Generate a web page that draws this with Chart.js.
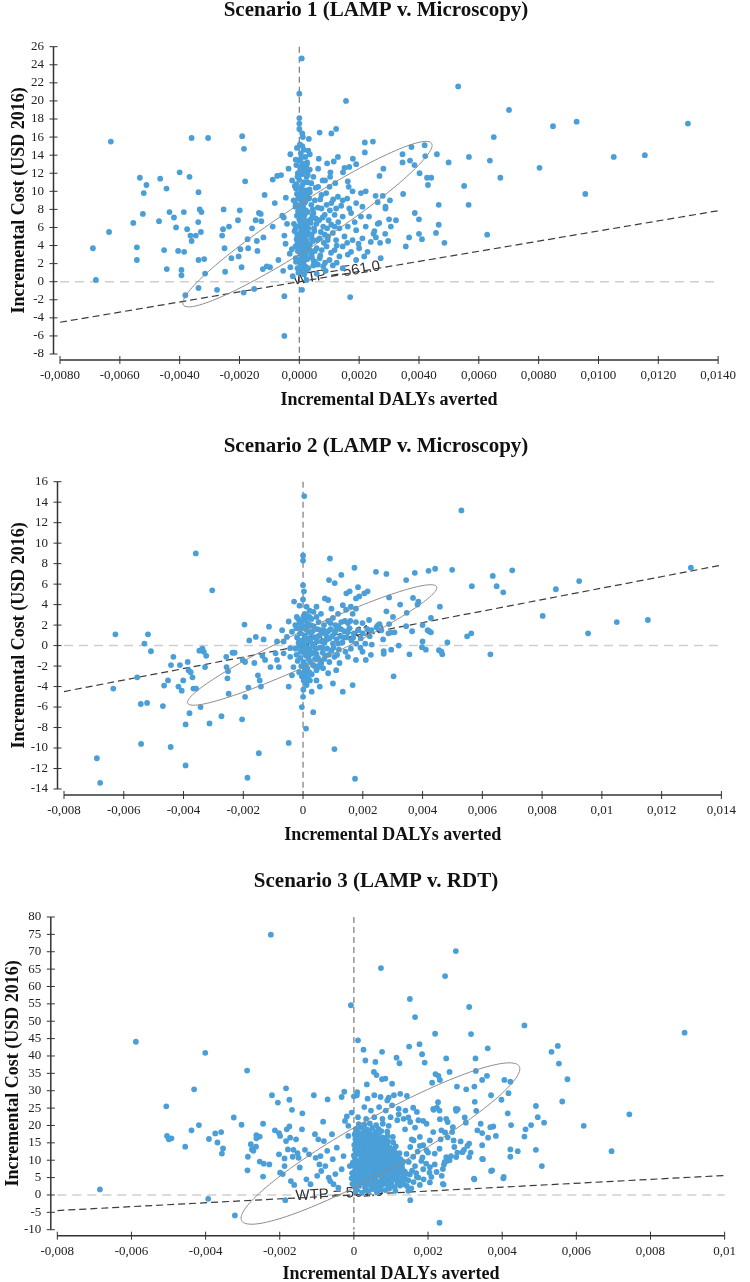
<!DOCTYPE html>
<html>
<head>
<meta charset="utf-8">
<script src="https://cdn.jsdelivr.net/npm/chart.js@4.4.0/dist/chart.umd.min.js"></script>
<style>
  html, body { margin: 0; padding: 0; background: #fff; }
  #page { position: relative; width: 750px; height: 1282px; background: #fff; }
  canvas { position: absolute; left: 0; }
</style>
</head>
<body>
<div id="page">
  <canvas id="c1" width="750" height="430" style="top:0px"></canvas>
  <canvas id="c2" width="750" height="430" style="top:430px"></canvas>
  <canvas id="c3" width="750" height="422" style="top:860px"></canvas>
</div>
<script>
document.addEventListener('DOMContentLoaded', function() {

  const WTP = 561.0;
  const xAxisTitle = 'Incremental DALYs averted';
  const yAxisTitle = 'Incremental Cost (USD 2016)';

  // ---- Scenario 1 ----
  const s1Title = 'Scenario 1 (LAMP v. Microscopy)';
  const s1XTicks = [-0.008, -0.006, -0.004, -0.002, 0, 0.002, 0.004, 0.006, 0.008, 0.010, 0.012, 0.014];
  const s1XLabels = ['-0,0080', '-0,0060', '-0,0040', '-0,0020', '0,0000', '0,0020', '0,0040', '0,0060', '0,0080', '0,0100', '0,0120', '0,0140'];
  const s1YTicks = [-8, -6, -4, -2, 0, 2, 4, 6, 8, 10, 12, 14, 16, 18, 20, 22, 24, 26];
  const s1Ellipse = { cx: 0.000272, cy: 6.37, ax: 0.004149, ay: 8.94, bx: 0.00038, by: -1.98 };
  // [incremental DALYs averted, incremental cost]
  const s1Points = [
    [-0.0069,3.7],[-0.0068,0.2],[-0.0063,15.5],[-0.00636,5.5],[-0.00555,6.5],[-0.00543,3.8],[-0.00543,2.4],[-0.00533,11.5],
    [-0.00523,7.5],[-0.0052,9.8],[-0.00511,10.7],[-0.00469,6.7],[-0.00465,11.4],[-0.00452,3.5],[-0.00444,10.3],[-0.00443,1.4],
    [-0.00434,7.7],[-0.00419,7.1],[-0.00412,6.0],[-0.00405,3.4],[-0.004,12.1],[-0.00394,1.3],[-0.00394,0.7],[-0.00386,7.7],
    [-0.00385,3.3],[-0.00381,-1.5],[-0.00375,5.8],[-0.00367,11.6],[-0.00364,5.1],[-0.0036,15.9],[-0.0036,4.5],[-0.00346,5.1],
    [-0.00337,9.9],[-0.00338,6.6],[-0.00337,2.4],[-0.00337,-0.7],[-0.00333,8.0],[-0.00327,7.7],[-0.00329,5.5],[-0.00318,2.5],
    [-0.00315,0.9],[-0.00305,15.9],[-0.00275,-0.9],[-0.00258,5.1],[-0.00253,8.0],[-0.00255,5.8],[-0.0025,3.7],[-0.00248,1.1],
    [-0.00235,6.1],[-0.00227,2.6],[-0.00205,6.8],[-0.00203,2.8],[-0.00199,7.9],[-0.00197,3.6],[-0.00193,1.6],[-0.00191,16.1],
    [-0.00186,-1.2],[-0.00185,14.7],[-0.00181,11.1],[-0.00173,4.7],[-0.00171,3.7],[-0.00158,5.9],[-0.00151,-0.8],[-0.00146,6.8],
    [-0.00142,4.5],[-0.0014,3.4],[-0.00135,7.6],[-0.00129,7.5],[-0.00127,6.7],[-0.00122,1.4],[-0.0012,4.9],[-0.00116,9.6],
    [-0.00109,1.7],[-0.00098,1.6],[-0.00089,6.1],[-0.00089,11.3],[-0.00082,8.7],[-0.00074,11.7],[-0.0007,2.4],[-0.00061,11.8],
    [-0.00057,7.3],[-0.00052,7.1],[-0.0005,5.1],[-0.0005,-6.0],[-0.0005,-1.6],[-0.00046,4.2],[-0.00054,1.2],[-0.00045,9.3],
    [-0.00041,6.4],[-0.00032,3.1],[-0.0003,14.1],[-0.00024,11.2],[-0.00019,9.0],[-0.00016,5.6],
    [-0.00036,12.5],[-0.00018,6.4],[-0.00025,3.6],[-0.00013,8.3],[-0.0003,1.6],[-0.00022,0.6],[-0.00008,14.8],[-0.00015,10.6],
    [0.00008,24.7],[0,20.8],[0,18.1],[0,17.5],[0,16.9],[0.0001,16.4],[0.00012,16.0],[0.00009,-0.9],
    [0.00002,15.2],[0.0001,15.0],[0.00015,14.6],[0.00005,14.2],[0.0002,13.8],[0,13.4],[0.00012,13.1],[0.00022,12.8],
    [0.00003,12.5],[0.00014,12.2],[0.00008,11.9],[0.00024,11.6],[0,11.3],[0.00016,11.0],[0.0001,10.7],[0.00005,10.4],
    [0.0002,10.1],[0.00012,9.8],[0,9.5],[0.00025,9.3],[0.00007,9.0],[0.00017,8.7],[0.00002,8.4],[0.00013,8.2],
    [0.00022,7.9],[0.00006,7.6],[0.00018,7.4],[0.0001,7.1],[0,6.9],[0.00026,6.7],[0.00014,6.4],[0.00004,6.2],
    [0.0002,6.0],[0.00009,5.7],[0.00016,5.5],[0,5.3],[0.00024,5.1],[0.00011,4.9],[0.00005,4.6],[0.00019,4.4],
    [0.00013,4.2],[0,4.0],[0.00027,3.8],[0.00008,3.6],[0.00017,3.3],[0.00003,3.1],[0.00022,2.9],[0.00011,2.7],
    [0,2.4],[0.00015,2.2],[0.00006,2.0],[0.0002,1.7],[0.0001,1.4],[0.00003,1.1],[0.00016,0.8],
    [0.00035,12.4],[0.0004,10.9],[0.00033,9.2],[0.00045,8.0],[0.00038,6.9],[0.0003,5.9],
    [0.00042,4.8],[0.00036,3.5],[0.00048,2.3],[0.0003,1.5],[0.00044,7.3],[0.00034,10.2],[0.0005,5.6],[0.00028,11.8],
    [0.0003,14.5],[-0.00005,12.0],[-0.00008,9.7],[-0.00004,7.8],[-0.0001,6.1],[-0.00006,4.3],[-0.00012,2.6],[-0.00003,1.0],
    [-0.0001,10.8],[-0.00007,5.2],
    [-0.00012,13.5],[0.00006,13.7],[0.00026,13.2],[-0.0001,12.9],[0.00019,12.4],[-0.00006,11.6],[0.00027,11.0],[-0.00011,10.3],
    [0.00006,10.0],[0.00029,9.7],[-0.00004,9.2],[0.00021,8.9],[-0.00012,8.6],[0.00009,8.0],[0.00028,7.7],[-0.00008,7.3],
    [0.00015,7.0],[0.00003,6.6],[0.00023,6.3],[-0.00012,5.9],[0.00006,5.5],[0.00029,5.4],[-0.00003,5.0],[0.00015,4.8],
    [0.00025,4.5],[-0.00009,4.7],[0.00003,4.3],[0.00021,4.0],[-0.00013,3.9],[0.00012,3.8],[0.00029,3.4],[-0.00005,3.4],
    [0.00006,3.0],[0.00018,2.8],[-0.00011,2.2],[0.00027,2.5],[0.00003,2.0],[0.00013,1.7],[-0.00006,1.5],[0.00024,1.3],
    [0.00008,12.8],[0.00016,9.4],[0.00011,6.0],[0.00019,3.2],[0.00001,7.3],
    [0.00032,15.8],[0.00068,16.5],[0.00107,16.4],[0.00123,16.9],[0.00156,20.0],[0.0017,-1.7],[0.00219,15.4],[0.00219,14.3],
    [0.00129,13.8],[0.00035,14.1],[0.00179,13.6],[0.0019,13.0],[0.00167,12.7],[0.00151,12.6],[0.00093,13.1],[0.00063,12.5],
    [0.00025,13.0],[0.00047,11.6],[0.00027,12.0],[0.00104,12.1],[0.00146,12.1],[0.00063,10.5],[0.00074,9.6],[0.00101,10.5],
    [0.00162,11.1],[0.00165,10.5],[0.00178,10.0],[0.00206,9.8],[0.00222,10.0],[0.00129,9.4],[0.00145,9.0],[0.00107,8.7],
    [0.00091,8.5],[0.00074,8.1],[0.00123,8.1],[0.00167,8.1],[0.0019,8.7],[0.00211,8.3],[0.00047,7.6],[0.00085,7.4],
    [0.00118,7.4],[0.00145,7.2],[0.00173,7.6],[0.00206,7.2],[0.00233,7.2],[0.00057,6.4],[0.0008,6.1],[0.00107,6.3],
    [0.00134,5.9],[0.00162,6.1],[0.0019,5.7],[0.00222,6.1],[0.00041,5.2],[0.00068,4.8],[0.00096,5.0],[0.00123,4.6],
    [0.00151,5.0],[0.00178,4.6],[0.00211,4.8],[0.00239,4.4],[0.00035,4.1],[0.00058,3.7],[0.00091,3.9],[0.00118,3.5],
    [0.00145,3.9],[0.00173,3.3],[0.002,3.7],[0.00228,3.3],[0.00041,3.0],[0.00068,2.6],[0.00101,2.4],[0.00134,2.8],
    [0.00162,3.0],[0.0019,2.4],[0.00217,2.8],[0.00047,1.8],[0.0008,1.7],[0.00112,1.8],[0.00145,1.5],[0.00058,0.9],
    [0.00024,0.2],[0.00052,9.0],[0.00086,11.2],[0.0012,10.9],[0.00055,7.0],[0.00098,6.8],[0.0013,6.6],[0.00072,5.5],
    [0.00112,5.4],[0.00045,4.5],[0.00082,4.3],[0.00106,3.2],[0.00052,2.2],[0.00088,1.2],[0.00125,2.1],[0.0014,8.4],
    [0.0016,9.2],[0.00185,6.6],[0.00198,4.2],[0.0016,4.3],[0.00035,9.9],[0.0004,8.5],[0.00038,6.5],
    [0.00055,10.4],[0.0007,9.1],[0.00062,8.2],[0.00078,7.1],[0.0009,9.8],[0.00066,6.8],[0.00093,5.9],[0.00049,5.9],
    [0.00085,5.2],[0.0006,4.6],[0.00075,3.5],[0.00095,4.6],[0.00052,3.4],[0.0007,2.9],[0.00086,2.1],[0.00102,7.9],
    [0.00113,9.1],[0.00118,6.1],[0.00125,4.0],[0.00062,1.9],[0.00042,2.7],[0.00078,11.2],[0.00103,11.6],[0.00065,13.6],
    [0.00115,13.3],
    [0.00531,21.6],[0.00701,19.0],[0.00848,17.2],[0.00927,17.7],[0.01299,17.5],[0.0065,16.0],[0.01051,13.8],[0.01155,14.0],
    [0.00803,12.6],[0.00956,9.7],[0.00637,13.4],[0.00672,11.5],[0.00567,13.8],[0.00551,10.6],[0.00566,8.5],[0.00628,5.2],
    [0.00499,13.2],[0.0046,14.1],[0.00466,8.5],[0.00466,6.3],[0.00457,5.4],[0.00485,4.3],[0.00419,15.1],[0.00421,13.9],
    [0.00375,14.9],[0.00345,14.1],[0.00345,13.2],[0.0037,13.4],[0.00385,12.9],[0.00402,12.0],[0.00427,11.5],[0.00441,11.5],
    [0.0043,10.7],[0.00347,9.7],[0.00386,7.6],[0.004,6.9],[0.004,5.3],[0.0041,4.7],[0.00367,4.9],[0.00356,3.9],
    [0.00281,12.5],[0.00268,11.7],[0.00246,15.5],[0.00255,9.5],[0.00279,9.5],[0.00262,8.8],[0.00303,9.0],[0.00288,8.3],
    [0.00288,8.1],[0.003,6.9],[0.00323,6.8],[0.00306,6.1],[0.00267,6.5],[0.00262,6.4],[0.00251,5.6],[0.00248,5.3],
    [0.00256,4.9],[0.0027,4.3],[0.00297,4.5],[0.00287,5.3],[0.00272,2.6]
  ];

  // ---- Scenario 2 ----
  const s2Title = 'Scenario 2 (LAMP v. Microscopy)';
  const s2XTicks = [-0.008, -0.006, -0.004, -0.002, 0, 0.002, 0.004, 0.006, 0.008, 0.010, 0.012, 0.014];
  const s2XLabels = ['-0,008', '-0,006', '-0,004', '-0,002', '0', '0,002', '0,004', '0,006', '0,008', '0,01', '0,012', '0,014'];
  const s2YTicks = [-14, -12, -10, -8, -6, -4, -2, 0, 2, 4, 6, 8, 10, 12, 14, 16];
  const s2Ellipse = { cx: 0.000305, cy: 0.06, ax: 0.004165, ay: 5.69, bx: 0.000232, by: -1.49 };
  const s2Points = [
    [-0.0069,-11.0],[-0.00679,-13.4],[-0.00635,-4.2],[-0.00628,1.1],[-0.00555,-3.1],[-0.00543,-5.7],[-0.00542,-9.6],[-0.00531,0.2],
    [-0.00522,-5.6],[-0.00519,1.1],[-0.00509,-0.55],[-0.00469,-5.9],[-0.00465,-3.9],[-0.00452,-3.4],[-0.00443,-9.9],[-0.00442,-1.9],
    [-0.00434,-1.1],[-0.00417,-4.0],[-0.00412,-1.9],[-0.00406,-4.4],[-0.00401,-3.4],[-0.00393,-11.7],[-0.00393,-7.7],[-0.00386,-1.6],
    [-0.00383,-2.4],[-0.0038,-6.6],[-0.00376,-2.6],[-0.0037,-3.1],[-0.00367,-4.2],[-0.00359,9.0],[-0.00358,-4.2],[-0.00347,-0.5],
    [-0.00343,-6.0],[-0.00337,-0.3],[-0.00332,-0.6],[-0.00328,-2.1],[-0.00324,-1.0],[-0.00313,-7.6],[-0.00304,5.4],[-0.00273,-6.9],
    [-0.00257,-1.1],[-0.00256,-2.1],[-0.00253,-3.2],[-0.00249,-4.7],[-0.00251,-2.5],[-0.00236,-0.7],[-0.00229,-0.7],[-0.00204,-7.2],
    [-0.00202,-1.4],[-0.00196,2.05],[-0.00194,-5.0],[-0.00194,-1.6],[-0.00186,-12.9],[-0.00183,-4.1],[-0.0018,0.5],[-0.00163,-1.7],
    [-0.00158,0.85],[-0.00151,-2.9],[-0.00148,-10.5],[-0.00145,-3.4],[-0.00141,-4.0],[-0.00136,-1.0],[-0.00132,0.6],[-0.00127,-1.4],
    [-0.00048,-9.5],[0.00004,14.6],[0,8.8],[0,8.3],[0.0009,8.5],[0.00105,-10.1],[0.00174,-13.0],[0.00156,5.3],
    [0.00145,5.1],[0.00184,5.7],
    [0,5.9],[0.00003,5.3],[0,4.5],[0.00012,3.8],[0.00087,6.4],[0.00106,6.1],[0.00128,6.9],[0.00172,7.6],
    [-0.00012,3.9],[-0.0003,4.3],[0.00045,3.8],[0.00073,4.6],[0.00084,4.45],[0.00095,3.6],[0.00133,3.95],[0.00144,3.5],
    [0.0016,3.8],[0.00177,4.6],[0.00188,4.8],[0.00205,5.1],[0.00216,5.3],[0.00177,3.6],[0.00166,3.1],[0.00117,3.1],
    [0.001,2.7],[0.00128,2.3],[0.0015,2.2],[0.00177,2.3],[0.00199,2.2],[0.00221,2.5],[0.00177,-1.4],[0.0021,-1.4],
    [0.0015,-1.1],[0.00122,-1.7],[0.00111,-2.4],[0.00084,-2.7],[0.00067,-2.2],[0.00051,-2.1],[0.001,-3.7],[0.00133,-4.5],
    [0.00166,-3.85],[0.00056,-4.0],[0.00029,-4.5],[0.00045,-3.4],[0.00023,-3.4],[0.00012,-3.85],[0.00001,-4.3],[0,-5.0],
    [-0.00004,-6.0],[0.00034,-6.5],[0.0001,-8.1],[-0.00048,-4.0],[-0.00081,-2.1],[-0.00109,-2.1],[-0.00087,-1.4],[-0.00092,-0.75],
    [-0.00065,-0.75],[-0.00043,-1.1],[-0.00032,-2.1],[-0.00037,-2.9],[-0.00043,-0.25],[-0.00065,0.4],[-0.00054,0.85],[-0.00087,0.4],
    [-0.00114,1.85],[-0.0007,1.5],[-0.00037,1.35],[-0.00026,2.0],[-0.00021,2.8],[-0.00048,2.35],[0.00227,-0.9],[0.00199,-0.6],
    [0.0053,13.2],[0.01298,7.6],[0.007,7.35],[0.00635,6.8],[0.00648,5.8],[0.0067,5.2],[0.00565,5.8],[0.00924,6.3],
    [0.00846,5.5],[0.00802,2.9],[0.0105,2.3],[0.01154,2.5],[0.00954,1.2],[0.00563,1.2],[0.00549,0.9],[0.00627,-0.85],
    [0.00499,7.4],[0.00442,7.5],[0.0042,7.3],[0.00374,7.1],[0.00345,6.4],[0.00279,7.0],[0.00244,7.2],[0.00458,3.8],
    [0.00428,2.7],[0.00417,1.5],[0.00422,1.4],[0.004,2.0],[0.00345,1.9],[0.00365,1.4],[0.00347,3.2],[0.00386,4.3],
    [0.00383,4.0],[0.00368,4.65],[0.00325,4.0],[0.00288,4.7],[0.00279,3.35],[0.00301,2.8],[0.00288,2.1],[0.00483,0.3],
    [0.004,0.4],[0.00398,-0.15],[0.00411,-0.4],[0.00455,-0.45],[0.00463,-0.6],[0.00466,-0.85],[0.00356,-0.85],[0.0032,0],
    [0.00295,-0.4],[0.0027,-0.55],[0.0027,-0.8],[0.00303,-3.0],[0.00306,1.3],[0.00295,1.3],[0.00286,1.2],[0.00268,0.6],
    [0.00262,1.5],[0.00246,1.8],[0.00229,1.5],[0.00251,2.0],[0.00256,2.1],[0.00428,1.3],
    [0.00002,2.9],[0.00008,2.5],[0.00015,2.2],[0.00003,1.9],[0.0001,1.6],[0.00018,1.3],[0.00005,1.0],[0.00012,0.7],
    [0.0002,0.4],[0.00001,0.2],[0.00009,-0.1],[0.00016,-0.4],[0.00004,-0.7],[0.00011,-1.0],[0.00019,-1.3],[0.00002,-1.6],
    [0.00008,-1.9],[0.00014,-2.2],[0.00004,-2.6],[0.0001,-3.0],[0.00002,-3.4],[0.00006,-2.3],[0.00013,-0.2],[0.00007,0.6],
    [0.00016,1.8],[-0.0001,1.2],[-0.00015,0.3],[-0.00008,-0.6],[-0.00018,-1.5],[-0.00012,2.2],[-0.0002,0.8],[-0.00006,-2.0],
    [-0.00025,-0.3],[0.00028,2.6],[0.00035,1.9],[0.00026,1.2],[0.00038,0.8],[0.00031,0.2],[0.00042,-0.3],[0.00027,-0.8],
    [0.0004,-1.3],[0.00033,-1.9],[0.00045,-2.4],[0.00029,-2.8],[0.00052,2.3],[0.00058,1.5],[0.0005,0.9],[0.00062,0.4],
    [0.00055,-0.2],[0.00066,-0.7],[0.0005,-1.2],[0.00061,-1.7],[0.0007,2.0],[0.00076,1.1],[0.00072,0.3],[0.00081,-0.3],
    [0.00075,-1.0],[0.00088,0.7],[0.00092,1.6],[0.00095,-0.5],[0.001,0.2],[0.00105,1.2],[0.00112,0.6],[0.00118,1.9],
    [0.00125,0.9],[0.00132,0.3],[0.00138,1.4],[0.00146,0.8],[0.00155,1.7],[0.00162,0.5],[0.0017,1.2],[0.00178,0.2],
    [0.00185,1.5],[0.00193,0.7],[0.002,1.2],[0.00208,0.2],[0.00215,1.6],[0.00223,0.9],[0.0023,0.1],[0.0012,-0.4],
    [0.00142,-0.6],[0.00105,-1.1],[0.00088,-1.6],[0.0016,-0.3],[0.00192,-0.2],[0.00084,2.4],[0.00108,2.0],[0.0006,3.1],
    [0.00035,3.3],[0.00022,3.4],
    [-0.00022,1.7],[-0.00016,2.6],[-0.00005,2.4],[0.00006,3.1],[0.00021,2.8],[0.00026,2.0],[0.00032,1.4],[0.00024,0.6],
    [0.00036,-0.1],[0.00022,-0.3],[0.00019,-0.9],[0.00035,-0.7],[0.00024,-1.6],[0.00038,-2.0],[0.00021,-2.6],[0.00017,-3.2],
    [0.00008,-3.6],[-0.00004,-3.0],[-0.00013,-2.6],[-0.00009,-1.2],[-0.00022,-0.9],[-0.00014,-0.1],[-0.00004,0.5],[-0.00008,1.7],
    [0.00045,2.8],[0.00048,1.6],[0.00046,0.4],[0.00056,1.0],[0.00045,-0.8],[0.00057,-1.5],[0.00049,-2.0],[0.00068,1.5],
    [0.00065,-0.2],[0.00078,0.6],[0.00071,-1.3],[0.00084,1.4],[0.00086,-0.9],[0.00097,0.9],[0.00092,2.2],[0.00102,-0.2],
    [0.0011,1.5],[0.00114,-0.9],[0.00127,1.6],[0.00136,0.8],[0.00118,0.2],[0.0015,1.3],[0.00158,2.4],[0.0014,2.4],
    [0.00168,0.8],[0.00013,2.9],[0.0001,-2.5],[0.00003,-0.3]
  ];

  // ---- Scenario 3 ----
  const s3Title = 'Scenario 3 (LAMP v. RDT)';
  const s3XTicks = [-0.008, -0.006, -0.004, -0.002, 0, 0.002, 0.004, 0.006, 0.008, 0.010];
  const s3XLabels = ['-0,008', '-0,006', '-0,004', '-0,002', '0', '0,002', '0,004', '0,006', '0,008', '0,01'];
  const s3YTicks = [-10, -5, 0, 5, 10, 15, 20, 25, 30, 35, 40, 45, 50, 55, 60, 65, 70, 75, 80];
  const s3Ellipse = { cx: 0.000716, cy: 14.8, ax: 0.003744, ay: 22.2, bx: 0.000342, by: -6.82 };
  const s3Points = [
    [-0.00685,1.6],[-0.00588,44.1],[-0.00506,25.5],[-0.00504,17.0],[-0.00499,16.0],[-0.00492,16.3],[-0.00455,13.9],[-0.00438,18.6],
    [-0.00431,30.4],[-0.00418,20.1],[-0.00401,40.9],[-0.00393,-1.1],[-0.00391,16.1],[-0.00374,17.7],[-0.00368,15.1],[-0.00358,18.1],
    [-0.00356,11.9],[-0.00353,13.4],[-0.00324,22.3],[-0.00321,-5.9],[-0.00303,20.2],[-0.00288,35.8],[-0.00287,7.1],[-0.00286,11.0],
    [-0.00278,14.6],[-0.00275,13.1],[-0.00271,12.7],[-0.00263,16.3],[-0.00263,17.2],[-0.00254,16.8],[-0.00264,13.9],[-0.00254,9.6],
    [-0.00245,5.3],[-0.00245,20.5],[-0.00243,9.0],[-0.00228,8.8],[-0.00224,74.9],[-0.00221,28.7],[-0.00213,18.6],[-0.00205,26.6],
    [-0.00202,17.8],[-0.00202,11.7],[-0.00199,17.0],[-0.00199,6.4],[-0.00192,6.0],[-0.00187,8.3],[-0.00187,10.5],[-0.00185,-1.5],
    [-0.00183,30.7],[-0.00183,15.5],[-0.00181,18.9],[-0.00178,13.1],[-0.00174,27.4],[-0.00174,19.7],[-0.00172,16.5],[-0.0017,4.0],
    [-0.00167,24.5],[-0.00165,11.0],[-0.00163,13.0],[-0.00161,2.9],[-0.00156,16.0],[-0.00152,12.0],[-0.00149,10.7],[-0.00146,7.9],
    [-0.0014,18.9],[-0.00139,23.5],[-0.00132,13.0],[-0.00128,4.5],[-0.00121,11.7],[-0.00117,3.1],[-0.00108,28.7],[-0.00105,17.5],
    [-0.00103,10.7],[-0.00099,5.5],[-0.00096,16.0],[-0.00093,8.8],[-0.0009,11.2],[-0.00088,6.9],[-0.00083,21.1],[-0.00081,15.5],
    [-0.00077,8.3],[-0.00072,12.7],[-0.00071,27.5],[-0.00068,5.0],[-0.00064,4.0],[-0.00059,17.5],[-0.00057,10.3],[-0.00055,3.1],
    [-0.0005,6.0],[-0.00046,13.6],[-0.00042,2.1],[-0.00033,28.2],[-0.00026,29.7],[-0.00024,21.3],[-0.00019,22.6],[-0.00015,19.9],
    [-0.00008,54.6],[-0.00006,23.7],[-0.00015,17.0],[-0.00028,11.2],[-0.00033,7.4],[-0.00011,8.3],
    [0.00011,44.5],[0.00026,41.8],[0.00031,38.7],[0.00035,31.8],[0.00061,34.5],[0.00103,32.0],[0.00008,28.7],[0,28.4],
    [0.00009,29.6],
    [0.00275,70.2],[0.00073,65.3],[0.00246,63.0],[0.00151,56.4],[0.00311,54.1],[0.00165,51.2],[0.0046,48.8],[0.00892,46.7],
    [0.00219,46.4],[0.00316,46.3],[0.00149,42.7],[0.00177,43.4],[0.0055,42.9],[0.00533,41.2],[0.00076,41.2],[0.00361,42.2],
    [0.00553,37.8],[0.00576,33.3],[0.00184,40.5],[0.00115,39.5],[0.00249,39.3],[0.00328,39.3],[0.00123,37.9],[0.00191,38.1],
    [0.00562,26.9],[0.00743,23.2],[0.0062,19.9],[0.00695,12.6],[0.00507,8.3],[0.00491,25.6],[0.00496,22.4],[0.00513,20.8],
    [0.00478,20.1],[0.00463,18.9],[0.0046,16.8],[0.00491,13.0],[0.00442,12.6],[0.00422,13.1],[0.00422,11.0],[0.00403,4.8],
    [0.00424,20.1],[0.00415,23.5],[0.00417,29.3],[0.00422,32.6],[0.00406,33.1],[0.00398,27.4],[0.0037,28.7],[0.00359,34.3],
    [0.00346,33.1],[0.00329,35.7],[0.00325,31.2],[0.00326,26.8],[0.0033,24.2],[0.00342,20.5],[0.00346,17.8],[0.00346,14.3],
    [0.00348,10.3],[0.0037,6.9],[0.00362,16.5],[0.00376,19.7],[0.00383,17.0],[0.00325,4.5],[0.00242,3.0],[0.00237,5.5],
    [0.00152,-1.5],[0.00231,-8.0],[0.00302,20.8],[0.00299,22.3],[0.0028,24.7],[0.00276,24.2],[0.00303,30.4],[0.00278,31.2],
    [0.00258,35.4],[0.00228,34.3],[0.0022,34.8],[0.00211,32.3],[0.00232,33.1],[0.00224,25.1],[0.00215,24.5],[0.00232,21.8],
    [0.00253,21.0],[0.00265,18.1],[0.00246,18.0],[0.00234,16.0],[0.00269,15.7],[0.00288,15.4],[0.00306,14.1],[0.00297,13.0],
    [0.00315,12.2],[0.00279,12.2],[0.00262,11.2],[0.00251,9.8],[0.00243,8.8],[0.00218,8.8],[0.00204,6.4],[0.00187,7.4],
    [0.00174,5.0],[0.00178,2.9],[0.00147,1.2],[0.00129,3.6],[0.00151,5.9],[0.00165,8.3],[0.00182,9.8],[0.002,12.2],
    [0.00178,14.1],[0.00156,16.0],[0.00165,19.4],[0.00138,18.9],[0.00187,21.3],[0.00147,22.3],[0.00121,23.2],[0.0016,25.1],
    [0.00143,28.5],[0.00094,28.0],[0.00076,33.3],[0.00085,33.5],[0.00054,35.4],[0.00058,38.3],
    [0.00037,27.7],[0.00055,28.7],[0.00072,28.2],[0.0009,27.2],[0.00108,28.7],[0.00125,29.1],[0.00028,25.3],[0.00046,24.3],
    [0.00068,25.3],[0.00086,24.3],[0.00103,25.8],[0.00121,24.8],[0.00139,24.3],[0.00011,22.4],[0.00033,21.9],[0.00055,22.4],
    [0.00077,21.9],[0.00099,22.4],[0.00117,21.5],[0.00134,21.9],[0.00152,21.0],[0.00174,21.5],[0.0017,23.9],[0.00214,24.8],
    [0.00231,24.3],[0.00227,26.7],[0.00249,21.9],[0.00275,24.8],[0.00196,20.5],
    [0.00161,15.7],[0.00178,16.7],[0.00187,14.3],[0.00205,15.7],[0.00196,12.8],[0.00218,11.9],[0.00231,13.3],[0.00249,10.9],
    [0.00258,10.0],[0.00245,9.5],[0.00276,10.9],[0.00293,12.3],[0.0024,7.5],[0.00223,6.6],[0.00205,8.0],[0.0017,5.2],
    [0.00161,3.7],[0.00147,4.2],[0.00134,5.2],[0.00209,5.2],[0.0024,3.2],[0.00324,4.7],[0.00373,7.1],[0.00404,5.2],
    [0.00346,10.4],[0.00311,14.8],[0.00333,18.6],[0.00368,19.5],[0.00311,10.9],[0.00271,13.8],[0.00214,18.1],[0.00236,18.6],
    [0.00267,19.5],[0.00253,16.6],
    [0.00148,9.5],[0.0016,11.0],[0.00172,12.5],[0.00152,13.8],[0.00185,10.8],[0.00195,9.0],[0.00157,7.0],[0.00142,11.8],
    [0.00168,6.3],[0.00188,4.5],[0.00205,3.6],[0.00143,2.6],[0.00155,1.9],
    [0.00005,1.0],[0.00022,0.6],[0.0004,1.2],[0.00062,0.8],[0.00085,1.4],
    [0.00002,2.4],[0.00015,2.8],[0.0003,2.2],[0.00046,2.6],[0.0006,2.3],[0.00076,2.9],[0.00093,2.5],[0.0011,2.2],[0.00125,2.7],
    [0.00004,4.1],[0.00014,3.7],[0.00026,4.3],[0.00038,3.9],[0.0005,4.2],[0.00063,3.8],[0.00075,4.4],[0.00088,4.0],
    [0.001,3.6],[0.00114,4.3],[0.00128,3.9],[0.0014,4.5],
    [0,5.6],[0.0001,5.2],[0.00021,5.8],[0.00033,5.4],[0.00044,5.9],[0.00056,5.3],[0.00068,5.7],[0.0008,5.2],
    [0.00092,5.8],[0.00105,5.4],[0.00119,5.9],[0.00133,5.3],
    [0.00003,7.1],[0.00013,6.7],[0.00024,7.3],[0.00036,6.8],[0.00048,7.2],[0.0006,6.6],[0.00071,7.4],[0.00083,6.9],
    [0.00096,7.3],[0.00109,6.7],[0.00122,7.2],[0.00137,6.8],
    [0,8.4],[0.00011,8.9],[0.00023,8.3],[0.00034,8.8],[0.00046,8.2],[0.00058,8.7],[0.0007,8.4],[0.00082,8.9],
    [0.00094,8.3],[0.00107,8.6],[0.0012,8.2],[0.0013,8.9],
    [0.00004,10.2],[0.00015,9.7],[0.00027,10.3],[0.00039,9.8],[0.00051,10.1],[0.00063,9.6],[0.00075,10.4],[0.00087,9.9],
    [0.001,10.2],[0.00113,9.7],[0.00126,10.3],
    [0,11.4],[0.00012,11.8],[0.00024,11.3],[0.00036,11.7],[0.00048,11.2],[0.0006,11.6],[0.00072,11.3],[0.00084,11.8],
    [0.00097,11.4],[0.0011,11.7],
    [0.00003,13.1],[0.00016,12.7],[0.00028,13.2],[0.0004,12.8],[0.00052,13.3],[0.00065,12.9],[0.00078,13.2],[0.0009,12.7],[0.00104,13.1],
    [0.00001,14.4],[0.00013,14.8],[0.00026,14.3],[0.00038,14.7],[0.0005,14.2],[0.00063,14.6],[0.00076,14.3],[0.0009,14.8],
    [0.00004,16.1],[0.00017,15.7],[0.0003,16.2],[0.00043,15.8],[0.00056,16.3],[0.0007,15.9],[0.00084,16.2],
    [0.00002,17.4],[0.00014,17.8],[0.00027,17.3],[0.0004,17.7],[0.00054,17.4],[0.00068,17.9],
    [0.00006,19.0],[0.0002,19.4],[0.00035,18.9],[0.0005,19.3],[0.00066,19.0],
    [0.00008,1.6],[0.00031,1.4],[0.00051,1.7],[0.00072,1.5],[0.00095,1.8],[0.00112,1.2],[-0.00004,3.2],[0.00009,3.3],
    [0.00021,3.5],[0.00035,3.1],[0.00055,3.2],[0.00069,3.4],[0.00083,3.3],[0.00102,2.9],[0.00118,3.3],[0.00134,3.1],
    [-0.00006,4.8],[0.00018,4.7],[0.00031,4.9],[0.00044,4.7],[0.00058,4.9],[0.00081,4.7],[0.00095,4.9],[0.00109,4.8],
    [0.00123,4.6],[-0.00005,6.3],[0.00007,6.4],[0.00027,6.5],[0.0004,6.2],[0.00052,6.5],[0.00065,6.2],[0.00077,6.5],
    [0.00089,6.3],[0.00101,6.4],[0.00115,6.2],[0.00128,6.5],[0.00141,6.1],[0.00006,7.8],[0.00018,7.7],[0.0003,8.0],
    [0.00042,7.7],[0.00054,7.9],[0.00066,7.6],[0.00078,8.0],[0.0009,7.7],[0.00103,7.9],[0.00116,7.6],[0.0013,7.8],
    [-0.00003,9.3],[0.00009,9.4],[0.00021,9.2],[0.00033,9.5],[0.00045,9.1],[0.00057,9.4],[0.00069,9.2],[0.00081,9.5],
    [0.00093,9.1],[0.00106,9.3],[0.00119,9.2],[0.00133,9.6],[0.00002,10.9],[0.0002,10.8],[0.00033,11.0],[0.00045,10.7],
    [0.00057,10.9],[0.00069,10.6],[0.00081,10.9],[0.00093,10.7],[0.00106,10.9],[0.00119,10.8],[0.00008,12.3],[0.00021,12.2],
    [0.00033,12.4],[0.00046,12.1],[0.00058,12.3],[0.00071,12.1],[0.00084,12.4],[0.00097,12.2],[0.0011,12.5],[0.00123,12.0],
    [0.00007,13.8],[0.0002,13.7],[0.00034,13.9],[0.00046,13.6],[0.00058,13.9],[0.00071,13.6],[0.00084,13.8],[0.00097,13.6],
    [0.00113,14.0],[0.00008,15.3],[0.00022,15.1],[0.00036,15.4],[0.0005,15.1],[0.00064,15.3],[0.00078,15.0],[0.00092,15.4],
    [0.00106,15.1],[0.00008,16.9],[0.00022,16.6],[0.00036,17.0],[0.00049,16.6],[0.00062,16.9],[0.00077,16.6],[0.00091,17.0],
    [0.00105,16.7],[0.00009,18.3],[0.00027,18.2],[0.00042,18.4],[0.00058,18.1],[0.00074,18.4],[0.0009,18.2],[0.00013,20.4],
    [0.00028,20.2],[0.00043,20.6],[0.0006,20.1],[0.00078,20.5],[0.00094,19.9]
  ];

  const BLUE = '#4a9fd8';
  const SERIF = '"Liberation Serif", "Times New Roman", serif';
  const SANS = '"Liberation Sans", Arial, sans-serif';

  function line(ctx, x1, y1, x2, y2) {
    ctx.beginPath();
    ctx.moveTo(x1, y1);
    ctx.lineTo(x2, y2);
    ctx.stroke();
  }

  // draws reference lines, WTP label, ellipse, offset axes and titles
  function decorPlugin(cfg) {
    return {
      id: 'decor',
      beforeDatasetsDraw(chart) {
        const { ctx, chartArea: a, scales: { x, y } } = chart;
        ctx.save();
        const y0 = y.getPixelForValue(0);
        ctx.strokeStyle = '#cfcfcf';
        ctx.lineWidth = 1.5;
        ctx.setLineDash([9, 6]);
        line(ctx, a.left, y0, a.right, y0);

        const x0 = x.getPixelForValue(0);
        ctx.strokeStyle = '#7a7a7a';
        ctx.lineWidth = 1.2;
        ctx.setLineDash([6, 4]);
        line(ctx, x0, a.top, x0, a.bottom);

        // WTP label along the threshold line
        const px = a.left + cfg.labelAt * (a.right - a.left);
        const v = x.getValueForPixel(px);
        const py = y.getPixelForValue(WTP * v);
        const px2 = x.getPixelForValue(v + 0.001);
        const py2 = y.getPixelForValue(WTP * (v + 0.001));
        const ang = Math.atan2(py2 - py, px2 - px);
        ctx.setLineDash([]);
        ctx.translate(px, py);
        ctx.rotate(ang);
        ctx.font = '15px ' + SANS;
        ctx.fillStyle = '#333';
        ctx.textAlign = 'center';
        ctx.textBaseline = 'middle';
        ctx.fillText('WTP = ' + WTP.toFixed(1), 0, -2);
        ctx.restore();
      },
      afterDatasetsDraw(chart) {
        const { ctx, scales: { x, y } } = chart;
        const e = cfg.ellipse;
        ctx.save();
        ctx.beginPath();
        for (let i = 0; i <= 144; i++) {
          const t = i / 144 * Math.PI * 2;
          const ex = e.cx + e.ax * Math.cos(t) + e.bx * Math.sin(t);
          const ey = e.cy + e.ay * Math.cos(t) + e.by * Math.sin(t);
          const X = x.getPixelForValue(ex);
          const Y = y.getPixelForValue(ey);
          if (i === 0) ctx.moveTo(X, Y); else ctx.lineTo(X, Y);
        }
        ctx.closePath();
        ctx.strokeStyle = '#8c8c8c';
        ctx.lineWidth = 1;
        ctx.stroke();
        ctx.restore();
      },
      afterDraw(chart) {
        const { ctx, chartArea: a, scales: { x, y } } = chart;
        ctx.save();
        const axX = a.left - 6.5;
        const axY = a.bottom + 6;
        ctx.strokeStyle = '#333';
        ctx.lineWidth = 1.5;
        line(ctx, axX, y.getPixelForValue(cfg.yTicks[cfg.yTicks.length - 1]), axX, y.getPixelForValue(cfg.yTicks[0]));
        line(ctx, x.getPixelForValue(cfg.xTicks[0]), axY, x.getPixelForValue(cfg.xTicks[cfg.xTicks.length - 1]), axY);
        ctx.lineWidth = 1;
        cfg.yTicks.forEach(function(v) {
          const p = y.getPixelForValue(v);
          line(ctx, axX - 4, p, axX + 4, p);
        });
        cfg.xTicks.forEach(function(v) {
          const p = x.getPixelForValue(v);
          line(ctx, p, axY - 4, p, axY + 4);
        });

        ctx.fillStyle = '#111';
        ctx.textAlign = 'center';
        ctx.textBaseline = 'alphabetic';
        ctx.font = 'bold 21px ' + SERIF;
        ctx.fillText(cfg.title, 376, cfg.titleY);
        ctx.font = 'bold 18px ' + SERIF;
        ctx.fillText(xAxisTitle, (a.left + a.right) / 2, cfg.xTitleY);
        ctx.translate(cfg.yTitleX, (a.top + a.bottom) / 2);
        ctx.rotate(-Math.PI / 2);
        ctx.fillText(yAxisTitle, 0, 0);
        ctx.restore();
      }
    };
  }

  function makeChart(id, cfg) {
    const ctx = document.getElementById(id).getContext('2d');
    const xMin = cfg.xTicks[0];
    const xMax = cfg.xTicks[cfg.xTicks.length - 1];
    const tickFont = { family: SERIF, size: 13 };

    return new Chart(ctx, {
      type: 'scatter',
      data: {
        datasets: [
          {
            label: 'Simulations',
            data: cfg.points.map(p => ({ x: p[0], y: p[1] })),
            pointRadius: 2.9,
            pointHoverRadius: 2.9,
            pointBackgroundColor: BLUE,
            pointBorderWidth: 0
          },
          {
            label: 'WTP',
            data: [{ x: xMin, y: WTP * xMin }, { x: xMax, y: WTP * xMax }],
            showLine: true,
            borderColor: '#3c3c3c',
            borderWidth: 1.2,
            borderDash: [7, 4],
            pointRadius: 0,
            fill: false
          }
        ]
      },
      options: {
        responsive: false,
        animation: false,
        layout: {
          padding: {
            left: cfg.area.left - 40,
            right: 750 - cfg.area.right,
            top: cfg.area.top,
            bottom: cfg.height - cfg.area.bottom - 30
          }
        },
        plugins: {
          legend: { display: false },
          tooltip: { enabled: false },
          title: { display: false }
        },
        scales: {
          x: {
            type: 'linear',
            min: xMin,
            max: xMax,
            grid: { display: false, drawTicks: false },
            border: { display: false },
            ticks: {
              autoSkip: false,
              maxRotation: 0,
              padding: 14,
              color: '#222',
              font: tickFont,
              callback: (v, i) => cfg.xLabels[i]
            },
            afterBuildTicks: s => { s.ticks = cfg.xTicks.map(v => ({ value: v })); },
            afterFit: s => { s.height = 30; }
          },
          y: {
            type: 'linear',
            min: cfg.yTicks[0],
            max: cfg.yTicks[cfg.yTicks.length - 1],
            grid: { display: false, drawTicks: false },
            border: { display: false },
            ticks: {
              autoSkip: false,
              padding: 16,
              color: '#222',
              font: tickFont,
              callback: v => String(v)
            },
            afterBuildTicks: s => { s.ticks = cfg.yTicks.map(v => ({ value: v })); },
            afterFit: s => { s.width = 40; }
          }
        }
      },
      plugins: [decorPlugin(cfg)]
    });
  }

  makeChart('c1', {
    title: s1Title, points: s1Points, xTicks: s1XTicks, xLabels: s1XLabels, yTicks: s1YTicks, ellipse: s1Ellipse,
    height: 430, area: { left: 60, right: 727.3, top: 46.7, bottom: 354 },
    titleY: 16, xTitleY: 405, yTitleX: 24, labelAt: 0.421
  });
  makeChart('c2', {
    title: s2Title, points: s2Points, xTicks: s2XTicks, xLabels: s2XLabels, yTicks: s2YTicks, ellipse: s2Ellipse,
    height: 430, area: { left: 64, right: 731, top: 51.7, bottom: 359 },
    titleY: 21.7, xTitleY: 410, yTitleX: 24, labelAt: 0.421
  });
  makeChart('c3', {
    title: s3Title, points: s3Points, xTicks: s3XTicks, xLabels: s3XLabels, yTicks: s3YTicks, ellipse: s3Ellipse,
    height: 422, area: { left: 57.3, right: 737, top: 57, bottom: 369.7 },
    titleY: 27, xTitleY: 418.7, yTitleX: 17.5, labelAt: 0.423
  });
});
</script>
</body>
</html>
